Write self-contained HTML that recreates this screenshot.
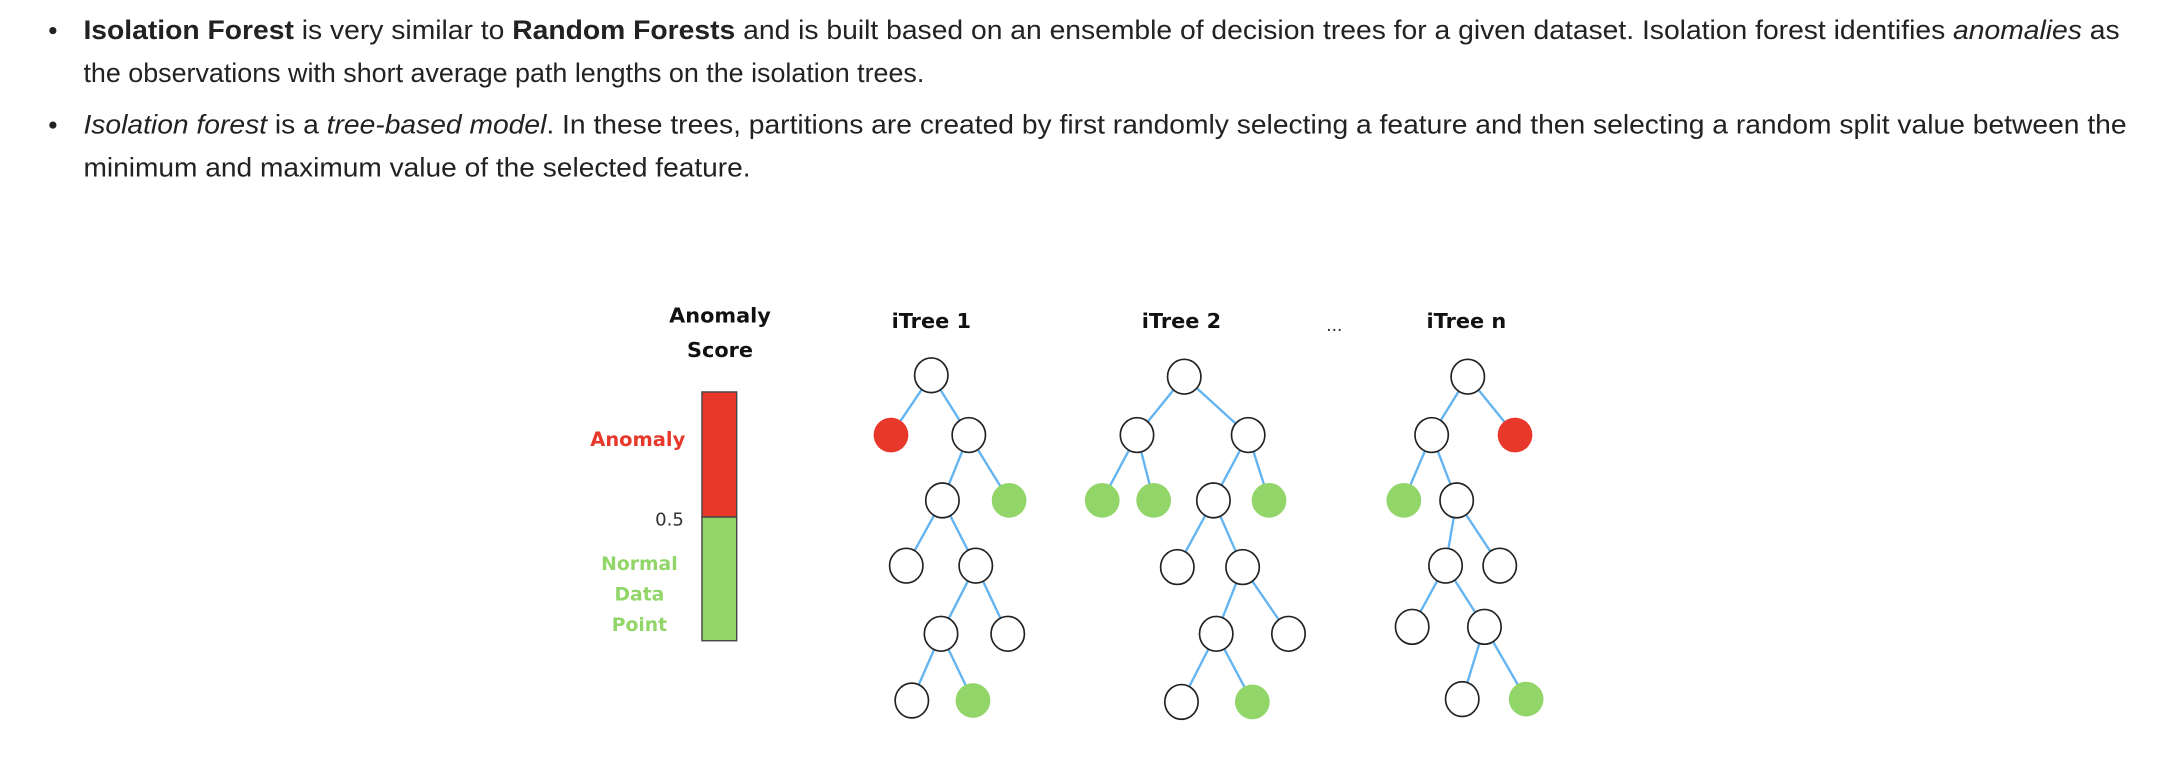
<!DOCTYPE html>
<html><head><meta charset="utf-8"><style>
html,body{margin:0;padding:0;background:#fff;}
svg{display:block;}
.p{font-family:"Liberation Sans",Arial,Helvetica,sans-serif;font-size:19px;fill:#222;}
.d{font-family:"DejaVu Sans","Liberation Sans",sans-serif;font-weight:bold;}
</style></head><body>
<svg width="2160" height="770" viewBox="0 0 1554 554" xmlns="http://www.w3.org/2000/svg">
<circle cx="38" cy="22" r="2.6" fill="#222"/>
<circle cx="38" cy="90" r="2.6" fill="#222"/>
<text class="p" x="60" y="28" textLength="1465" lengthAdjust="spacingAndGlyphs"><tspan font-weight="bold">Isolation Forest</tspan> is very similar to <tspan font-weight="bold">Random Forests</tspan> and is built based on an ensemble of decision trees for a given dataset. Isolation forest identifies <tspan font-style="italic">anomalies</tspan> as</text>
<text class="p" x="60" y="59" textLength="605" lengthAdjust="spacingAndGlyphs">the observations with short average path lengths on the isolation trees.</text>
<text class="p" x="60" y="96" textLength="1470" lengthAdjust="spacingAndGlyphs"><tspan font-style="italic">Isolation forest</tspan> is a <tspan font-style="italic">tree-based model</tspan>. In these trees, partitions are created by first randomly selecting a feature and then selecting a random split value between the</text>
<text class="p" x="60" y="127" textLength="480" lengthAdjust="spacingAndGlyphs">minimum and maximum value of the selected feature.</text>

<g class="d" font-size="15" text-anchor="middle" fill="#111">
<text x="518" y="232">Anomaly</text>
<text x="518" y="257">Score</text>
<text x="670" y="236">iTree 1</text>
<text x="850" y="236">iTree 2</text>
<text x="1055" y="236">iTree n</text>
</g>
<text x="960" y="238" font-family="Liberation Sans,sans-serif" font-size="14" text-anchor="middle" fill="#333">...</text>
<g class="d" font-size="14" text-anchor="end">
<text x="493" y="321" fill="#e8382c">Anomaly</text>
</g>
<text x="492" y="378" font-family="DejaVu Sans,sans-serif" font-size="13" text-anchor="end" fill="#333">0.5</text>
<g class="d" font-size="13.5" text-anchor="middle" fill="#92d66a">
<text x="460" y="410">Normal</text>
<text x="460" y="432">Data</text>
<text x="460" y="454">Point</text>
</g>
<rect x="505" y="282" width="25" height="90" fill="#e8382c" stroke="#444" stroke-width="1"/>
<rect x="505" y="372" width="25" height="89" fill="#92d66a" stroke="#444" stroke-width="1"/>

<g stroke="#63b4f0" stroke-width="1.7">
<line x1="670" y1="270" x2="641" y2="313"/><line x1="670" y1="270" x2="697" y2="313"/>
<line x1="697" y1="313" x2="678" y2="360"/><line x1="697" y1="313" x2="726" y2="360"/>
<line x1="678" y1="360" x2="652" y2="407"/><line x1="678" y1="360" x2="702" y2="407"/>
<line x1="702" y1="407" x2="677" y2="456"/><line x1="702" y1="407" x2="725" y2="456"/>
<line x1="677" y1="456" x2="656" y2="504"/><line x1="677" y1="456" x2="700" y2="504"/>

<line x1="852" y1="271" x2="818" y2="313"/><line x1="852" y1="271" x2="898" y2="313"/>
<line x1="818" y1="313" x2="793" y2="360"/><line x1="818" y1="313" x2="830" y2="360"/>
<line x1="898" y1="313" x2="873" y2="360"/><line x1="898" y1="313" x2="913" y2="360"/>
<line x1="873" y1="360" x2="847" y2="408"/><line x1="873" y1="360" x2="894" y2="408"/>
<line x1="894" y1="408" x2="875" y2="456"/><line x1="894" y1="408" x2="927" y2="456"/>
<line x1="875" y1="456" x2="850" y2="505"/><line x1="875" y1="456" x2="901" y2="505"/>

<line x1="1056" y1="271" x2="1030" y2="313"/><line x1="1056" y1="271" x2="1090" y2="313"/>
<line x1="1030" y1="313" x2="1010" y2="360"/><line x1="1030" y1="313" x2="1048" y2="360"/>
<line x1="1048" y1="360" x2="1040" y2="407"/><line x1="1048" y1="360" x2="1079" y2="407"/>
<line x1="1040" y1="407" x2="1016" y2="451"/><line x1="1040" y1="407" x2="1068" y2="451"/>
<line x1="1068" y1="451" x2="1052" y2="503"/><line x1="1068" y1="451" x2="1098" y2="503"/>
</g>

<g fill="#fff" stroke="#222" stroke-width="1.2">
<ellipse cx="670" cy="270" rx="12" ry="12.5"/><ellipse cx="697" cy="313" rx="12" ry="12.5"/>
<ellipse cx="678" cy="360" rx="12" ry="12.5"/><ellipse cx="652" cy="407" rx="12" ry="12.5"/>
<ellipse cx="702" cy="407" rx="12" ry="12.5"/><ellipse cx="677" cy="456" rx="12" ry="12.5"/>
<ellipse cx="725" cy="456" rx="12" ry="12.5"/><ellipse cx="656" cy="504" rx="12" ry="12.5"/>

<ellipse cx="852" cy="271" rx="12" ry="12.5"/><ellipse cx="818" cy="313" rx="12" ry="12.5"/>
<ellipse cx="898" cy="313" rx="12" ry="12.5"/><ellipse cx="873" cy="360" rx="12" ry="12.5"/>
<ellipse cx="847" cy="408" rx="12" ry="12.5"/><ellipse cx="894" cy="408" rx="12" ry="12.5"/>
<ellipse cx="875" cy="456" rx="12" ry="12.5"/><ellipse cx="927" cy="456" rx="12" ry="12.5"/>
<ellipse cx="850" cy="505" rx="12" ry="12.5"/>

<ellipse cx="1056" cy="271" rx="12" ry="12.5"/><ellipse cx="1030" cy="313" rx="12" ry="12.5"/>
<ellipse cx="1048" cy="360" rx="12" ry="12.5"/><ellipse cx="1040" cy="407" rx="12" ry="12.5"/>
<ellipse cx="1079" cy="407" rx="12" ry="12.5"/><ellipse cx="1016" cy="451" rx="12" ry="12.5"/>
<ellipse cx="1068" cy="451" rx="12" ry="12.5"/><ellipse cx="1052" cy="503" rx="12" ry="12.5"/>
</g>
<g fill="#e8382c">
<ellipse cx="641" cy="313" rx="12.5" ry="12.5"/><ellipse cx="1090" cy="313" rx="12.5" ry="12.5"/>
</g>
<g fill="#92d66a">
<ellipse cx="726" cy="360" rx="12.5" ry="12.5"/><ellipse cx="700" cy="504" rx="12.5" ry="12.5"/>
<ellipse cx="793" cy="360" rx="12.5" ry="12.5"/><ellipse cx="830" cy="360" rx="12.5" ry="12.5"/>
<ellipse cx="913" cy="360" rx="12.5" ry="12.5"/><ellipse cx="901" cy="505" rx="12.5" ry="12.5"/>
<ellipse cx="1010" cy="360" rx="12.5" ry="12.5"/><ellipse cx="1098" cy="503" rx="12.5" ry="12.5"/>
</g>
</svg>
</body></html>
